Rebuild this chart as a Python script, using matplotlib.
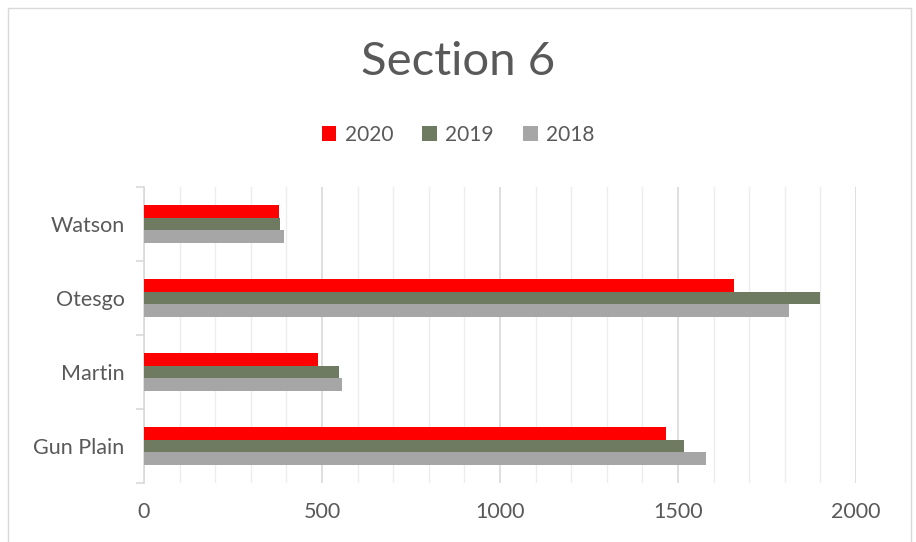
import numpy as np
from matplotlib import pyplot as plt
from matplotlib.patches import Rectangle

# categories bottom to top
sites = ["Gun Plain", "Martin", "Otesgo", "Watson"]
years = ["2020", "2019", "2018"]
vals_2020 = [1466, 490, 1657, 379]
vals_2019 = [1518, 549, 1899, 381]
vals_2018 = [1580, 556, 1812, 392]
colors = ["#ff0000", "#6e7b61", "#a6a6a6"]

plt.rcParams['font.family'] = ['Lato', 'DejaVu Sans']
txt = "#595959"

fig = plt.figure(figsize=(9.16, 5.42), dpi=100)
W, H = 916, 542
ax = fig.add_axes([144 / W, 1 - 483 / H, (856 - 144) / W, (483 - 187) / H])

y = np.arange(len(sites))
h = 0.17
series = [vals_2020, vals_2019, vals_2018]
for i, (vals, yr) in enumerate(zip(series, years)):
    ax.barh(y + h - i * h, vals, height=h, color=colors[i], label=yr, zorder=3)

ax.set_xlim(0, 2000)
ax.set_ylim(-0.5, len(sites) - 0.5)

# gridlines
ax.set_xticks(np.arange(0, 2001, 500))
ax.set_xticks(np.arange(0, 2001, 100), minor=True)
ax.grid(axis='x', which='minor', color='#ededed', lw=1, zorder=0)
ax.grid(axis='x', which='major', color='#d9d9d9', lw=1.2, zorder=1)
ax.tick_params(axis='x', which='both', length=0, labelsize=15.5, colors=txt, pad=14)

ax.set_yticks(y)
ax.set_yticklabels(sites)
ax.set_yticks(np.arange(-0.5, len(sites), 1), minor=True)
ax.tick_params(axis='y', which='major', length=0, labelsize=15.5, colors=txt, pad=14)
ax.tick_params(axis='y', which='minor', length=6, color='#d9d9d9', width=1.2)

for s in ['top', 'right', 'bottom']:
    ax.spines[s].set_visible(False)
ax.spines['left'].set_color('#d9d9d9')
ax.spines['left'].set_linewidth(1.2)

fig.text(458 / W, 1 - 62 / H, "Section 6", ha='center', va='center',
         fontsize=34, color=txt)

leg = fig.legend(loc='center', bbox_to_anchor=(458 / W, 1 - 135 / H), ncol=3,
                 frameon=False, fontsize=15, handlelength=0.7, handleheight=0.7,
                 handletextpad=0.4, columnspacing=1.4)
for t in leg.get_texts():
    t.set_color(txt)

# outer chart border
fig.patches.append(Rectangle((8 / W, -0.01), (911 - 8) / W, 1 - 8 / H + 0.01,
                             transform=fig.transFigure, fill=False,
                             edgecolor='#d9d9d9', lw=1))

fig.savefig("out.png", dpi=100)
